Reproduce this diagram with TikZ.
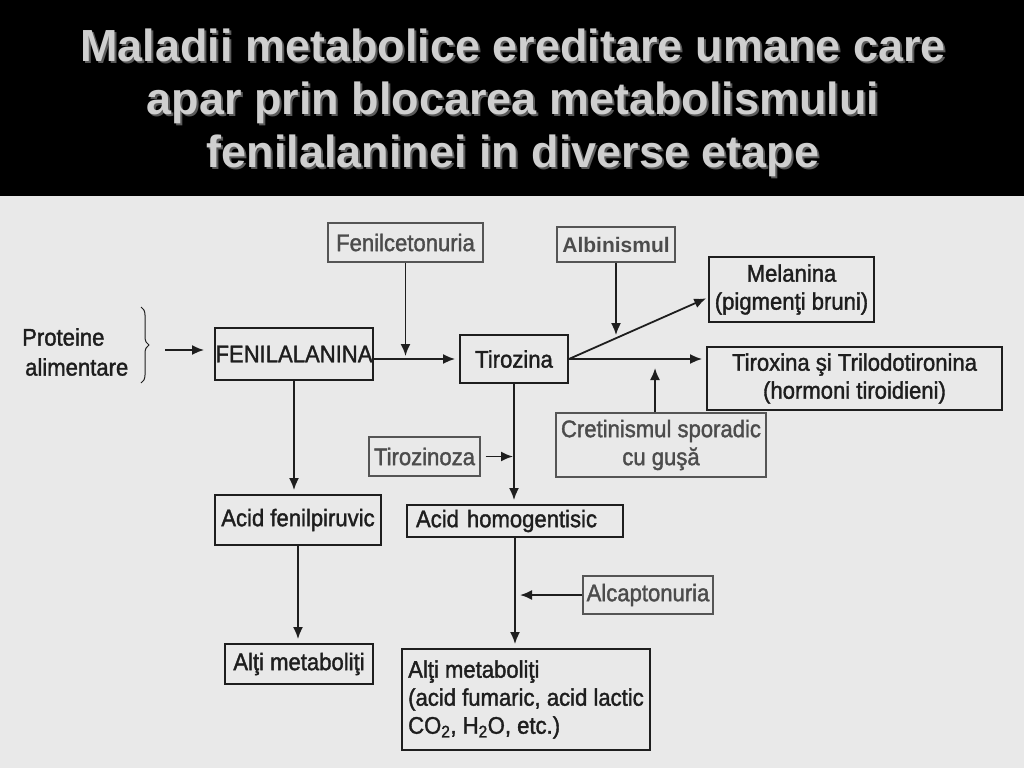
\documentclass[tikz,border=0pt]{standalone}
\usepackage{fontspec}
\setmainfont{Liberation Sans}
\newfontfamily\scanfont{Liberation Sans}[FakeBold=1.5, FakeStretch=0.92]
\usetikzlibrary{arrows.meta,positioning,decorations.pathreplacing}
\definecolor{page}{HTML}{E9E9E9}
\definecolor{ink}{HTML}{1E1E1E}
\definecolor{grayink}{HTML}{4C4C4C}
\definecolor{boxgray}{HTML}{555555}
\definecolor{titlegray}{HTML}{CFCFCF}
\definecolor{titleshade}{HTML}{5A5A5A}
\newcommand{\slidetitle}{Maladii metabolice ereditare umane care\\apar prin blocarea metabolismului\\fenilalaninei in diverse etape}

\begin{document}
\begin{tikzpicture}[
    x=1pt, y=-1pt,
    every node/.style={font=\scanfont\fontsize{24}{28}\selectfont, inner sep=0pt},
    box/.style={draw=ink, line width=1.9pt, text=ink, align=center},
    disbox/.style={draw=boxgray, line width=1.4pt, text=grayink, align=center},
    arr/.style={-{Latex[length=12pt,width=10pt]}, line width=1.8pt, draw=ink}
  ]
    \useasboundingbox (0,0) rectangle (1024,768);
    % Title band and scanned page
    \fill[black] (0,0) rectangle (1024,196);
    \fill[page] (0,196) rectangle (1024,768);

    % Title
    \node[font=\bfseries\fontsize{45}{53}\selectfont, text=titleshade, align=center] (titleshadow) at (515,105) {\slidetitle};
    \node[font=\bfseries\fontsize{45}{53}\selectfont, text=titlegray, align=center] (title) at (513,103) {\slidetitle};

    % Main chain
    \node[text=ink, align=left, anchor=west, font=\scanfont\fontsize{24}{30}\selectfont] (prot) at (22,352) {Proteine\\\hspace*{3pt}alimentare};
    \node[box, minimum width=158, minimum height=52] (phe) at (294,354) {FENILALANINA};
    \node[box, minimum width=108, minimum height=48] (tyr) at (514,359) {Tirozina};
    \node[box, minimum width=165, minimum height=65] (mel) at (791.5,289.5) {Melanina\\(pigmenţi bruni)};
    \node[box, minimum width=295, minimum height=63] (thyr) at (854.5,378.5) {Tiroxina şi Trilodotironina\\(hormoni tiroidieni)};

    % Lower metabolites
    \node[box, minimum width=166, minimum height=50] (fpa) at (298,520) {Acid fenilpiruvic};
    \node[box, minimum width=216, minimum height=32, text width=198, align=left] (hga) at (515,521) {Acid homogentisic};
    \node[box, minimum width=148, minimum height=40] (met1) at (299,664) {Alţi metaboliţi};
    \node[box, minimum width=248, minimum height=101, align=left] (met2) at (526,699.5) {Alţi metaboliţi\\(acid fumaric, acid lactic\\CO\textsubscript{2}, H\textsubscript{2}O, etc.)};

    % Diseases (blocked steps)
    \node[disbox, minimum width=155, minimum height=39] (pku) at (405.5,242.5) {Fenilcetonuria};
    \node[disbox, minimum width=118, minimum height=35, font=\bfseries\fontsize{21}{28}\selectfont] (alb) at (616,244.5) {Albinismul};
    \node[disbox, minimum width=210, minimum height=64] (cret) at (661,445) {Cretinismul sporadic\\cu guşă};
    \node[disbox, minimum width=111, minimum height=39] (tyrs) at (424.5,456.5) {Tirozinoza};
    \node[disbox, minimum width=130, minimum height=38] (alc) at (648,595) {Alcaptonuria};

    % Brace and entry arrow
    \draw[ink, line width=1pt, decorate, decoration={brace, amplitude=8pt}] (141,307) -- (141,383);
    \coordinate (brtip) at (165,350);
    \draw[arr, shorten >=10pt] (brtip) -- (brtip -| phe.west);

    % Arrows of the pathway
    \draw[arr, shorten >=4pt] (phe.east |- tyr.west) -- (tyr.west);
    \draw[arr, shorten >=2pt] (tyr.east) -- coordinate[pos=0.34] (diag) ([yshift=-8pt]mel.west);
    \draw[arr, shorten >=4pt] (tyr.east) -- (tyr.east -| thyr.west);
    \draw[arr, shorten >=4pt] (phe.south) -- (phe.south |- fpa.north);
    \draw[arr, shorten >=4pt] (tyr.south) -- (tyr.south |- hga.north);
    \draw[arr, shorten >=4pt] (fpa.south) -- (fpa.south |- met1.north);
    \draw[arr, shorten >=4pt] (hga.south) -- (hga.south |- met2.north);

    % Arrows from the diseases
    \draw[arr, shorten >=3pt] (pku.south) -- (pku.south |- tyr.west);
    \draw[arr, shorten >=3pt] (alb) -- (alb.south |- diag);
    \coordinate (cretin) at ([xshift=-6pt]cret.north);
    \draw[arr, shorten >=9pt] (cretin) -- (cretin |- tyr.east);
    \draw[arr, shorten <=5pt, shorten >=1pt] (tyrs.east) -- (tyrs.east -| tyr.south);
    \draw[arr, shorten >=5pt] (alc.west) -- (alc.west -| hga.south);
\end{tikzpicture}
\end{document}
